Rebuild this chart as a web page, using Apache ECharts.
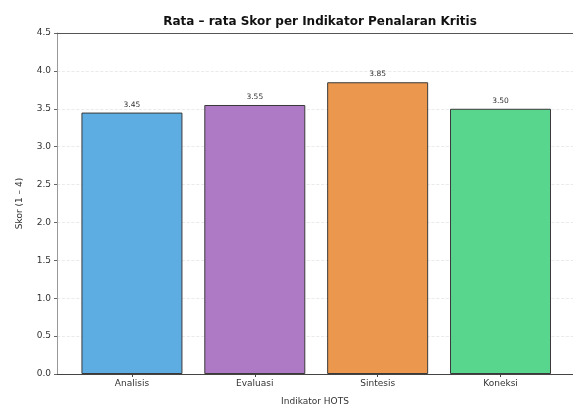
<!DOCTYPE html>
<html><head><meta charset="utf-8">
<script src="https://cdn.jsdelivr.net/npm/echarts@6/dist/echarts.min.js"></script>
<style>html,body{margin:0;padding:0;background:#fff}#c{width:573px;height:411px}</style>
</head><body><div id="c"></div>
<script>
const categories = ['Analisis', 'Evaluasi', 'Sintesis', 'Koneksi'];
const scores = [3.45, 3.55, 3.85, 3.50];
const barColors = ['#5DADE2', '#AF7AC5', '#EB984E', '#58D68D'];

const chart = echarts.init(document.getElementById('c'), null, {renderer: 'canvas'});
const font = 'DejaVu Sans';
chart.setOption({
  animation: false,
  title: {
    text: 'Rata – rata Skor per Indikator Penalaran Kritis',
    left: 315, top: 11, textAlign: 'center',
    textStyle: {fontFamily: font, fontWeight: 'bold', fontSize: 12, color: '#111'}
  },
  grid: {left: 57, top: 33, width: 525, height: 346, containLabel: false},
  xAxis: [{
    type: 'value', min: -0.61, max: 3.59,
    name: 'Indikator HOTS', nameLocation: 'middle', nameGap: 23,
    nameTextStyle: {fontFamily: font, fontSize: 9, color: '#333'},
    axisLine: {show: true, onZero: false, lineStyle: {color: '#444', width: 1}},
    axisTick: {show: true, length: 3, customValues: [0, 1, 2, 3], lineStyle: {color: '#444'}},
    axisLabel: {customValues: [0, 1, 2, 3], formatter: v => categories[Math.round(v)],
      fontFamily: font, fontSize: 9, color: '#333', margin: 5},
    splitLine: {show: false}
  }, {
    type: 'value', min: -0.61, max: 3.59, position: 'top',
    axisLine: {show: true, onZero: false, lineStyle: {color: '#555', width: 1}},
    axisTick: {show: false}, axisLabel: {show: false}, splitLine: {show: false}
  }],
  yAxis: {
    type: 'value', min: 0, max: 4.5, interval: 0.5,
    name: 'Skor (1 – 4)', nameLocation: 'middle', nameGap: 33, nameRotate: 90,
    nameTextStyle: {fontFamily: font, fontSize: 9, color: '#333'},
    axisLine: {show: true, onZero: false, lineStyle: {color: '#999', width: 1}},
    axisTick: {show: true, length: 3, lineStyle: {color: '#666'}},
    axisLabel: {formatter: v => v.toFixed(1), fontFamily: font, fontSize: 9, color: '#333', margin: 6},
    splitLine: {show: true, lineStyle: {color: '#e6e6e6', type: 'dashed', width: 0.8}}
  },
  series: [{
    type: 'bar', xAxisIndex: 0, barWidth: 101,
    data: scores.map((s, i) => ({value: [i, s], itemStyle: {color: barColors[i]}})),
    itemStyle: {borderColor: '#3a3a3a', borderWidth: 1},
    label: {show: true, position: 'top', distance: 4, formatter: p => p.value[1].toFixed(2),
      fontFamily: font, fontSize: 7.5, color: '#333'}
  }]
});
</script></body></html>
